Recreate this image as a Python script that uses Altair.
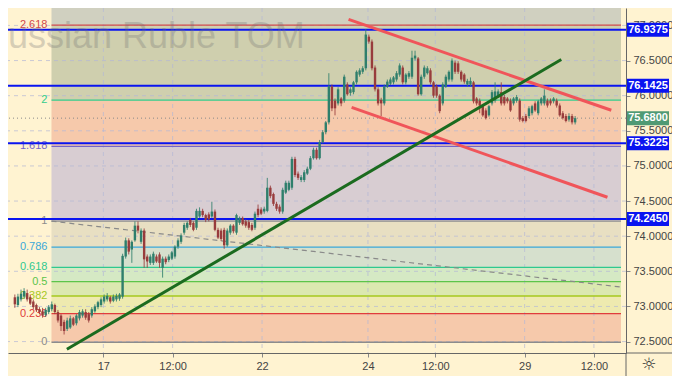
import json
import altair as alt
import pandas as pd

# ---------------- data ----------------
opens = [73.13, 73.02, 73.10, 73.14, 73.19, 73.13, 73.07, 73.02, 72.96, 72.93,
         72.88, 72.92, 72.96, 73.02, 72.92, 72.87, 72.78, 72.68, 72.70, 72.83,
         72.76, 72.83, 72.87, 72.92, 72.89, 72.87, 72.93, 72.99, 73.02, 73.07,
         73.10, 73.13, 73.08, 73.10, 73.11, 73.14,
         73.71, 73.94, 73.81, 73.94, 74.15, 73.92, 74.08, 73.71, 73.62, 73.62,
         73.71, 73.74, 73.55, 73.68, 73.66, 73.68, 73.71, 73.85, 73.92, 74.05,
         74.12, 74.23, 74.19, 74.12, 74.28, 74.36, 74.30, 74.31, 74.28, 74.35,
         74.09, 74.08, 74.09, 73.87, 74.05, 74.15, 74.05,
         74.19, 74.26, 74.21, 74.20, 74.16, 74.12, 74.39, 74.38, 74.35, 74.36,
         74.69, 74.60, 74.46, 74.42, 74.35, 74.62, 74.66, 74.69, 75.10, 74.89,
         74.80, 74.80, 74.89, 74.96, 75.11, 75.23, 75.11, 75.34, 75.48, 75.62,
         76.13, 75.93, 75.89, 75.96, 75.93, 76.16, 76.04, 76.05, 76.19, 76.30,
         76.34, 76.39, 76.84, 76.77, 76.40, 76.09, 75.94, 75.89, 76.13, 76.17,
         76.19, 76.23, 76.30, 76.40, 76.19, 76.27, 76.27, 76.53, 76.53, 76.02,
         76.27, 76.32, 76.36, 76.19, 76.13, 76.00, 75.89, 76.13, 76.23, 76.23,
         76.47, 76.46, 76.34, 76.30, 76.16, 76.16, 76.19, 75.96, 75.93, 75.85,
         75.79, 75.72, 75.89, 75.93, 76.00, 76.05, 75.98, 75.96, 75.93, 75.89,
         75.93, 75.93, 75.68, 75.71, 75.71, 75.75, 75.89, 75.75, 75.89, 75.89,
         75.93, 75.93, 75.92, 75.93, 75.86, 75.75, 75.71, 75.66, 75.71, 75.62]
highs = [73.17, 73.18, 73.24, 73.26, 73.24, 73.17, 73.10, 73.04, 72.99, 72.98,
         72.98, 73.02, 73.07, 73.04, 72.95, 72.89, 72.81, 72.84, 72.87, 72.85,
         72.89, 72.95, 72.96, 72.96, 72.92, 72.99, 73.03, 73.08, 73.13, 73.17,
         73.19, 73.15, 73.17, 73.18, 73.19, 73.75,
         73.98, 73.97, 73.94, 74.21, 74.21, 74.11, 74.11, 73.74, 73.74, 73.78,
         73.74, 73.77, 73.71, 73.71, 73.74, 73.79, 73.87, 73.97, 74.04, 74.19,
         74.21, 74.26, 74.21, 74.39, 74.41, 74.39, 74.32, 74.34, 74.49, 74.38,
         74.12, 74.11, 74.12, 74.11, 74.17, 74.17, 74.32,
         74.28, 74.28, 74.24, 74.23, 74.19, 74.35, 74.45, 74.41, 74.42, 74.83,
         74.72, 74.62, 74.49, 74.45, 74.69, 74.79, 74.79, 75.13, 75.13, 74.92,
         74.87, 74.94, 74.99, 75.14, 75.26, 75.26, 75.37, 75.51, 75.64, 76.32,
         76.16, 75.96, 76.12, 75.98, 76.30, 76.19, 76.12, 76.21, 76.36, 76.39,
         76.42, 76.95, 76.87, 76.80, 76.43, 76.12, 75.97, 76.16, 76.23, 76.26,
         76.28, 76.35, 76.46, 76.43, 76.32, 76.35, 76.64, 76.64, 76.55, 76.30,
         76.43, 76.42, 76.39, 76.21, 76.16, 76.02, 76.19, 76.30, 76.36, 76.53,
         76.50, 76.49, 76.36, 76.32, 76.24, 76.26, 76.21, 75.98, 75.96, 75.87,
         75.82, 75.87, 76.08, 76.19, 76.09, 76.19, 76.01, 75.98, 75.96, 75.98,
         76.01, 75.96, 75.71, 75.74, 75.85, 75.87, 75.92, 75.94, 75.98, 76.09,
         75.96, 75.96, 75.98, 75.96, 75.89, 75.78, 75.74, 75.75, 75.74, 75.71]
lows = [72.98, 72.99, 73.07, 73.11, 73.07, 73.02, 72.96, 72.92, 72.89, 72.84,
        72.85, 72.89, 72.93, 72.89, 72.77, 72.65, 72.60, 72.65, 72.68, 72.72,
        72.73, 72.80, 72.84, 72.81, 72.77, 72.84, 72.91, 72.96, 72.99, 73.04,
        73.07, 73.04, 73.06, 73.07, 73.08, 73.11,
        73.68, 73.74, 73.62, 73.92, 74.04, 73.89, 73.55, 73.55, 73.59, 73.59,
        73.62, 73.55, 73.41, 73.60, 73.63, 73.66, 73.68, 73.82, 73.89, 74.02,
        74.09, 74.13, 74.07, 74.09, 74.26, 74.27, 74.20, 74.21, 74.26, 74.07,
        73.96, 73.93, 73.82, 73.85, 74.02, 74.04, 74.02,
        74.16, 74.15, 74.12, 74.09, 74.07, 74.09, 74.27, 74.30, 74.32, 74.34,
        74.54, 74.43, 74.36, 74.32, 74.32, 74.60, 74.64, 74.66, 74.84, 74.80,
        74.77, 74.77, 74.87, 74.94, 75.09, 75.09, 75.09, 75.32, 75.45, 75.59,
        75.78, 75.72, 75.86, 75.85, 75.90, 76.00, 76.00, 76.02, 76.16, 76.27,
        76.31, 76.36, 76.74, 76.36, 76.06, 75.86, 75.71, 75.86, 76.11, 76.15,
        76.16, 76.20, 76.27, 76.16, 76.16, 76.24, 76.24, 76.50, 76.00, 76.00,
        76.24, 76.30, 76.16, 75.97, 75.97, 75.75, 75.86, 76.11, 76.20, 76.20,
        76.31, 76.31, 76.20, 76.17, 76.13, 76.13, 75.89, 75.86, 75.75, 75.70,
        75.66, 75.70, 75.86, 75.90, 75.97, 75.86, 75.86, 75.89, 75.77, 75.86,
        75.90, 75.63, 75.62, 75.62, 75.68, 75.72, 75.77, 75.72, 75.86, 75.86,
        75.83, 75.86, 75.89, 75.83, 75.70, 75.66, 75.62, 75.63, 75.59, 75.59]
closes = [73.03, 73.14, 73.18, 73.22, 73.10, 73.04, 72.99, 72.95, 72.92, 72.87,
          72.95, 72.99, 73.03, 72.92, 72.80, 72.72, 72.65, 72.80, 72.83, 72.74,
          72.87, 72.92, 72.93, 72.84, 72.80, 72.96, 73.00, 73.06, 73.10, 73.14,
          73.15, 73.07, 73.14, 73.15, 73.17, 73.72,
          73.94, 73.78, 73.92, 74.15, 74.08, 74.08, 73.67, 73.64, 73.71, 73.75,
          73.64, 73.62, 73.68, 73.63, 73.71, 73.77, 73.85, 73.94, 74.01, 74.16,
          74.19, 74.16, 74.09, 74.36, 74.36, 74.30, 74.23, 74.24, 74.35, 74.09,
          73.98, 73.96, 73.87, 74.08, 74.15, 74.07, 74.30,
          74.26, 74.17, 74.15, 74.12, 74.09, 74.32, 74.30, 74.32, 74.39, 74.69,
          74.57, 74.46, 74.39, 74.35, 74.66, 74.76, 74.76, 75.10, 74.87, 74.83,
          74.84, 74.91, 74.96, 75.11, 75.23, 75.11, 75.34, 75.48, 75.62, 76.13,
          75.82, 75.82, 76.09, 75.89, 76.27, 76.02, 76.09, 76.19, 76.34, 76.36,
          76.39, 76.87, 76.77, 76.39, 76.09, 75.89, 75.89, 76.13, 76.20, 76.23,
          76.26, 76.32, 76.43, 76.19, 76.30, 76.32, 76.54, 76.57, 76.02, 76.27,
          76.40, 76.39, 76.19, 76.00, 76.00, 75.78, 76.16, 76.27, 76.34, 76.50,
          76.34, 76.34, 76.23, 76.20, 76.21, 76.21, 75.92, 75.89, 75.86, 75.72,
          75.68, 75.85, 76.05, 76.06, 76.06, 75.89, 75.89, 75.92, 75.79, 75.96,
          75.98, 75.66, 75.64, 75.64, 75.82, 75.85, 75.79, 75.92, 75.96, 76.00,
          75.86, 75.89, 75.96, 75.86, 75.72, 75.68, 75.64, 75.71, 75.62, 75.68]

fib_ratios = [0, 0.236, 0.382, 0.5, 0.618, 0.786, 1, 1.618, 2, 2.618, 3.618]
fib_text = ["0", "0.236", "0.382", "0.5", "0.618", "0.786", "1", "1.618", "2", "2.618"]
fib_line_colors = ["#8c8c8c", "#e03c3c", "#a6c81e", "#5cc44a", "#2fc98f", "#3aa8d8",
                   "#8c8c8c", "#7466c8", "#33cc8c", "#d24a4a"]
fib_band_colors = ["#f6c9ab", "#eeeaaf", "#dbe8b0", "#d5e9c4", "#d6e0cd", "#e8dfc2",
                   "#d8cdd2", "#f6c9ab", "#cfcfae", "#d0d0c0"]
fib_price0 = 72.49
fib_price1 = 74.214
fib_start_bar = 11.9

level_prices = [76.9375, 76.1425, 75.3225, 74.2450]
level_text = ["76.9375", "76.1425", "75.3225", "74.2450"]
last_price = 75.68
last_text = "75.6800"

price_ticks = [72.5, 73.0, 73.5, 74.0, 74.5, 75.0, 75.5, 76.0, 76.5, 77.0]
time_tick_bars = [28.75, 51.25, 80.3, 114.7, 136.6, 165.6, 188.1]
time_tick_labels = ["17", "12:00", "22", "24", "12:00", "29", "12:00"]

# trend lines: (bar, price) end points
red_upper = [(108.4, 77.085), (193.75, 75.792)]
red_lower = [(109.4, 75.833), (192.5, 74.554)]
green_line = [(16.9, 72.391), (177.5, 76.514)]
gray_dashed = [(11.9, 74.214), (196.9, 73.276)]

x_domain = [-0.6, 196.9]
y_domain = [72.337, 77.248]

W, H = 618, 345

# ---------------- frames ----------------
candles = pd.DataFrame({"i": range(len(opens)), "o": opens, "h": highs, "l": lows, "c": closes})
candles["col"] = ["#2f7f6c" if c >= o else "#983c3c" for o, c in zip(opens, closes)]

span = fib_price1 - fib_price0
fib_prices = [fib_price0 + r * span for r in fib_ratios]
bands = pd.DataFrame({
    "x": [fib_start_bar] * 10, "x2": [x_domain[1]] * 10,
    "lo": fib_prices[:-1], "hi": fib_prices[1:], "col": fib_band_colors,
})
fib_lines = pd.DataFrame({
    "x": [fib_start_bar] * 10, "x2": [x_domain[1]] * 10,
    "p": fib_prices[:10], "col": fib_line_colors, "t": fib_text,
})

xs = alt.Scale(domain=x_domain, nice=False, zero=False)
ys = alt.Scale(domain=y_domain, nice=False, zero=False)

label_expr = "{}[indexof({}, datum.value)]".format(json.dumps(time_tick_labels), json.dumps(time_tick_bars))

x_axis = alt.Axis(values=time_tick_bars, labelExpr=label_expr, grid=False, title=None,
                  tickSize=4, tickColor="#888", domainColor="#666",
                  labelColor="#444", labelFontSize=11, labelPadding=3,
                  labelFont="Liberation Sans")
y_axis = alt.Axis(orient="right", values=price_ticks, format=".4f", grid=False, title=None,
                  tickSize=4, tickColor="#888", domainColor="#666",
                  labelColor="#444", labelFontSize=11, labelPadding=3,
                  labelFont="Liberation Sans")


def X(field):
    return alt.X(field, scale=xs, axis=x_axis, title=None)


def Y(field):
    return alt.Y(field, scale=ys, axis=y_axis, title=None)


band_layer = alt.Chart(bands).mark_rect(clip=True).encode(
    x=X("x:Q"), x2="x2:Q", y=Y("lo:Q"), y2="hi:Q",
    color=alt.Color("col:N", scale=None),
)

grid_h = alt.Chart(pd.DataFrame({"p": price_ticks})).mark_rule(
    color="#b4b8d6", strokeDash=[4, 4], strokeWidth=1, opacity=0.7
).encode(y=Y("p:Q"))

grid_v = alt.Chart(pd.DataFrame({"b": time_tick_bars})).mark_rule(
    color="#b4b8d6", strokeDash=[4, 4], strokeWidth=1, opacity=0.7
).encode(x=X("b:Q"))

fib_rules = alt.Chart(fib_lines).mark_rule(strokeWidth=1.3).encode(
    x=X("x:Q"), x2="x2:Q", y=Y("p:Q"),
    color=alt.Color("col:N", scale=None),
)
fib_labels = alt.Chart(fib_lines).mark_text(
    align="right", baseline="middle", dx=-4, fontSize=11, font="Liberation Sans"
).encode(
    x=X("x:Q"), y=Y("p:Q"), text="t:N",
    color=alt.Color("col:N", scale=None),
)


def line_df(pts, name):
    return pd.DataFrame({"b": [p[0] for p in pts], "p": [p[1] for p in pts], "n": name})


dashed = alt.Chart(line_df(gray_dashed, "d")).mark_line(
    color="#8a8a8a", strokeDash=[5, 4], strokeWidth=1.2, clip=True
).encode(x=X("b:Q"), y=Y("p:Q"))

blue_lines = alt.Chart(pd.DataFrame({"p": level_prices})).mark_rule(
    color="#0a14f0", strokeWidth=2
).encode(y=Y("p:Q"))

last_line = alt.Chart(pd.DataFrame({"p": [last_price]})).mark_rule(
    color="#8a8a8a", strokeDash=[1, 3], strokeWidth=1
).encode(y=Y("p:Q"))

wicks = alt.Chart(candles).mark_rule(strokeWidth=1, opacity=0.85).encode(
    x=X("i:Q"), y=Y("l:Q"), y2="h:Q",
    color=alt.Color("col:N", scale=None),
)
bodies = alt.Chart(candles).mark_bar(size=2.4).encode(
    x=X("i:Q"), y=Y("o:Q"), y2="c:Q",
    color=alt.Color("col:N", scale=None),
)

red = alt.Chart(pd.concat([line_df(red_upper, "u"), line_df(red_lower, "l")])).mark_line(
    color="#f0555a", strokeWidth=3, clip=True
).encode(x=X("b:Q"), y=Y("p:Q"), detail="n:N")

green = alt.Chart(line_df(green_line, "g")).mark_line(
    color="#1b6b1f", strokeWidth=3, clip=True
).encode(x=X("b:Q"), y=Y("p:Q"))

one = pd.DataFrame({"a": [0]})
watermark = alt.Chart(one).mark_text(
    text="Russian Ruble TOM", align="left", baseline="alphabetic", fontSize=36,
    font="Liberation Sans", color="#6e6e6e", opacity=0.28
).encode(x=alt.value(-26), y=alt.value(40))

tags_df = pd.DataFrame({"p": level_prices + [last_price], "t": level_text + [last_text],
                        "col": ["#0a14f0"] * 4 + ["#4f9a74"]})
tags = alt.Chart(tags_df).mark_rule(strokeWidth=14).encode(
    x=alt.value(W + 1), x2=alt.value(W + 43),
    y=Y("p:Q"),
    color=alt.Color("col:N", scale=None),
)
tag_text = alt.Chart(tags_df).mark_text(
    color="white", fontSize=11, fontWeight="bold", align="center", baseline="middle",
    font="Liberation Sans"
).encode(x=alt.value(W + 22), y=Y("p:Q"), text="t:N")

frame_h = alt.Chart(one).mark_rule(color="#666", strokeWidth=1).encode(
    x=alt.value(W), x2=alt.value(W + 46), y=alt.value(H))
frame_v = alt.Chart(one).mark_rule(color="#666", strokeWidth=1).encode(
    x=alt.value(W), y=alt.value(H), y2=alt.value(H + 23))
gear = alt.Chart(one).mark_text(
    text="☼", fontSize=17, color="#333", align="center", baseline="middle", font="DejaVu Sans"
).encode(x=alt.value(W + 23), y=alt.value(H + 12))

chart = alt.layer(
    band_layer, grid_h, grid_v, fib_rules, fib_labels, dashed, blue_lines, last_line,
    wicks, bodies, red, green, watermark, tags, tag_text, frame_h, frame_v, gear,
).properties(
    width=W, height=H,
    padding={"left": 0, "top": 0, "right": 46, "bottom": 23},
    autosize=alt.AutoSizeParams(type="none"),
).configure(background="#fff3d1").configure_view(stroke=None, fill="#fff3d1")

chart.save("out.html", embed_options={"renderer": "svg", "actions": False})
